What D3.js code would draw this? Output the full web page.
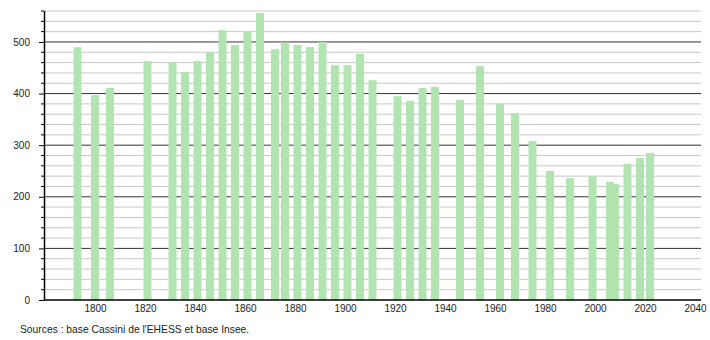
<!DOCTYPE html>
<html lang="fr">
<head>
<meta charset="UTF-8">
<title>Population</title>
<script src="https://d3js.org/d3.v7.min.js"></script>
<style>
    body { margin: 0; background: #fff; }
    svg text { font-family: "Liberation Sans", Arial, sans-serif; fill: #222; }
</style>
</head>
<body>
<svg id="chart" width="710" height="340"></svg>
<script>
    // census years and population
    const years = [1793, 1800, 1806, 1821, 1831, 1836, 1841, 1846, 1851, 1856, 1861, 1866,
        1872, 1876, 1881, 1886, 1891, 1896, 1901, 1906, 1911, 1921, 1926, 1931, 1936,
        1946, 1954, 1962, 1968, 1975, 1982, 1990, 1999, 2006, 2008, 2013, 2018, 2022];
    const population = [490, 397, 411, 463, 460, 442, 463, 480, 523, 494, 520, 556,
        486, 499, 494, 490, 500, 455, 455, 477, 426, 395, 386, 411, 413,
        388, 453, 380, 362, 308, 250, 236, 240, 229, 225, 264, 275, 285];
    const xTicks = [1800, 1820, 1840, 1860, 1880, 1900, 1920, 1940, 1960, 1980, 2000, 2020, 2040];
    const yTicks = [0, 100, 200, 300, 400, 500];
    const source = "Sources : base Cassini de l'EHESS et base Insee.";

    const svg = d3.select('#chart');
    const plotLeft = 44, plotRight = 701, plotTop = 11, plotBottom = 300;

    let x = d3.scaleLinear().domain([1779.6, 2042.4]).range([plotLeft, plotRight]);
    let y = d3.scaleLinear().domain([0, 560]).range([plotBottom, plotTop]);

    // gridlines, minor every 20, major every 100
    let minor = d3.range(20, 561, 20).filter(v => v % 100 !== 0);
    svg.append('g').selectAll('line').data(minor).enter().append('line')
        .attr('x1', plotLeft).attr('x2', plotRight)
        .attr('y1', d => y(d)).attr('y2', d => y(d))
        .attr('stroke', '#c8c8c8').attr('stroke-width', 1);
    svg.append('g').selectAll('line').data(yTicks.filter(v => v > 0)).enter().append('line')
        .attr('x1', plotLeft).attr('x2', plotRight)
        .attr('y1', d => y(d)).attr('y2', d => y(d))
        .attr('stroke', '#333').attr('stroke-width', 1);

    // bars (8px wide, ~3.2 years)
    let data = years.map((yr, i) => ({year: yr, value: population[i]}));
    svg.append('g').selectAll('rect').data(data.slice().reverse()).enter().append('rect')
        .attr('x', d => x(d.year - 1.6))
        .attr('width', d => x(d.year + 1.6) - x(d.year - 1.6))
        .attr('y', d => y(d.value))
        .attr('height', d => y(0) - y(d.value))
        .attr('fill', '#b2e4b2');

    // y axis with minor ticks
    let yAxis = svg.append('g').attr('transform', `translate(${plotLeft},0)`)
        .call(d3.axisLeft(y).tickValues(yTicks).tickSize(5).tickPadding(9).tickFormat(d3.format('d')));
    yAxis.select('.domain').remove();
    yAxis.selectAll('line').attr('stroke', '#000');
    yAxis.selectAll('text').style('font-size', '10px').attr('fill', '#222');
    svg.append('g').selectAll('line').data(minor).enter().append('line')
        .attr('x1', plotLeft - 3).attr('x2', plotLeft)
        .attr('y1', d => y(d)).attr('y2', d => y(d))
        .attr('stroke', '#000');
    svg.append('line')
        .attr('x1', plotLeft + 0.5).attr('x2', plotLeft + 0.5)
        .attr('y1', y(560)).attr('y2', y(0))
        .attr('stroke', '#000').attr('stroke-width', 1.5);

    // x axis
    let xAxis = svg.append('g').attr('transform', `translate(0,${plotBottom})`)
        .call(d3.axisBottom(x).tickValues(xTicks).tickSize(0).tickPadding(5).tickFormat(d3.format('d')));
    xAxis.select('.domain').remove();
    xAxis.selectAll('text').style('font-size', '10px').attr('fill', '#222');
    svg.append('line')
        .attr('x1', plotLeft).attr('x2', plotRight)
        .attr('y1', y(0)).attr('y2', y(0))
        .attr('stroke', '#000').attr('stroke-width', 1.5);

    svg.append('text').attr('x', 20).attr('y', 333).style('font-size', '10.3px').text(source);
</script>
</body>
</html>
